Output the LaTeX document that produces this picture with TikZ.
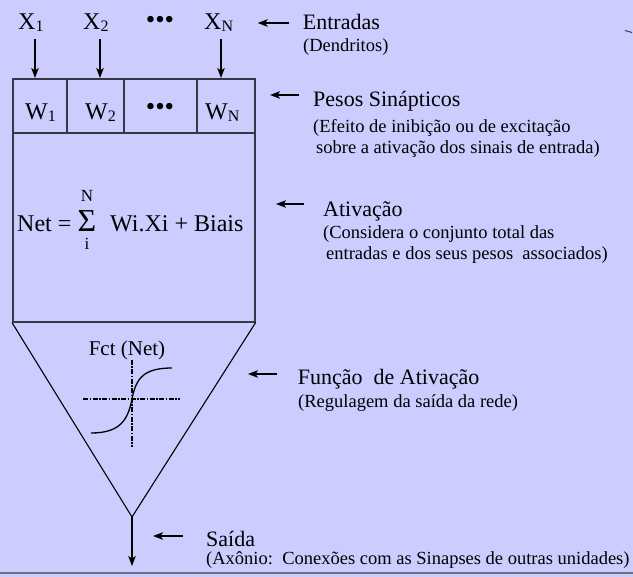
\documentclass[tikz,border=0pt]{standalone}
\usepackage{fontspec}
\setmainfont{Liberation Serif}
\usetikzlibrary{arrows.meta,positioning}
\definecolor{lavender}{RGB}{204,204,255}
\definecolor{boxgray}{RGB}{55,55,70}
\definecolor{rulegray}{RGB}{110,110,125}
\newcommand\sbs[1]{\raisebox{-2pt}{\fontsize{16}{16}\selectfont #1}}

\begin{document}
\begin{tikzpicture}[x=1pt, y=-1pt, >={Stealth[length=10pt,width=7.5pt,inset=2.5pt]},
	big/.style={font=\fontsize{22}{24}\selectfont, inner sep=0pt, anchor=base west},
	sub/.style={font=\fontsize{18.5}{21.5}\selectfont, inner sep=0pt, anchor=base west, align=left},
	sym/.style={font=\fontsize{24}{26}\selectfont, inner sep=0pt, anchor=base west},
	dots/.style={font=\fontsize{27}{28}\selectfont, inner sep=0pt},
	arr/.style={->, line width=1.3pt},
	boxline/.style={draw=boxgray, line width=1.6pt},
	dotline/.style={line width=1.7pt, dash pattern=on 5pt off 1.5pt on 1.5pt off 1.5pt}]
		\useasboundingbox (0,0) rectangle (633,577);
		\fill[lavender] (0,0) rectangle (633,577);
		\node[sym] (x1) at (18,29.3) {X\sbs{1}};
		\node[sym] (x2) at (83,29.3) {X\sbs{2}};
		\node[dots] (xdots) at (160,22) {•••};
		\node[sym] (xn) at (204,29.3) {X\sbs{N}};
		\node[boxline, minimum width=242pt, minimum height=243pt, inner sep=0pt, anchor=north west] (neuron) at (12,78) {};
		\draw[boxline] (12,133) -- (254,133);
		\foreach \c in {67,124,197} \draw[boxline] (\c,78) -- (\c,133);
		\foreach \n in {x1,x2,xn} {
			\coordinate (\n t) at ([xshift=17pt]\n.base west);
			\draw[arr] ([yshift=-10pt]\n t) -- (\n t |- neuron.north);
		}
		\node[sym] (w1) at (25,120) {W\sbs{1}};
		\node[sym] (w2) at (85,120) {W\sbs{2}};
		\node[dots] (wdots) at (160,109) {•••};
		\node[sym] (wn) at (205,120) {W\sbs{N}};
		\node[sym] (net) at (17,231.7) {Net =};
		\node[font=\fontsize{32}{33}\selectfont, inner sep=0pt, anchor=base] (sig) at (87,231.7) {Σ};
		\node[font=\fontsize{17}{18}\selectfont, inner sep=0pt, anchor=base] (supn) at (87,201.7) {N};
		\node[font=\fontsize{17}{18}\selectfont, inner sep=0pt, anchor=base] (subi) at (87,250) {i};
		\node[sym] (wx) at (110,231.7) {Wi.Xi + Biais};
		\coordinate (apex) at (132,517);
		\coordinate (out) at (132,566);
		\draw[line width=1.1pt] (neuron.south west) -- (apex) -- (neuron.south east);
		\draw[arr] (apex) -- (out);
		\node[font=\fontsize{21}{22}\selectfont, inner sep=0pt, anchor=base] (fct) at (127,356) {Fct (Net)};
		\draw[dotline] (132,360) -- (132,447);
		\draw[dotline] (83,399) -- (180,399);
		\draw[line width=1.3pt] (91,433) .. controls (120,433) and (128,420) .. (132,399) .. controls (136,378) and (144,368) .. (172,368);
		\node[big] (ent) at (302.7,30) {Entradas};
		\node[sub] (entd) at (303,52) {(Dendritos)};
		\node[big] (pes) at (313,107) {Pesos Sinápticos};
		\node[sub] (pesd) at (313,154) {(Efeito de inibição ou de excitação\\\hspace*{3pt}sobre a ativação dos sinais de entrada)};
		\node[big] (ati) at (323,216.7) {Ativação};
		\node[sub] (atid) at (323,260) {(Considera o conjunto total das\\\hspace*{3pt}entradas e dos seus pesos\ \ associados)};
		\node[big] (fun) at (297.7,385) {Função\ \ de Ativação};
		\node[sub] (fund) at (298,408) {(Regulagem da saída da rede)};
		\node[big] (sai) at (206,547) {Saída};
		\node[sub] (said) at (206,565) {(Axônio:\ \ Conexões com as Sinapses de outras unidades)};
		\draw[arr] ([shift={(-14pt,7pt)}]ent.base west) -- +(-31pt,0pt);
		\draw[arr] ([shift={(-14pt,12pt)}]pes.base west) -- +(-29pt,0pt);
		\draw[arr] ([shift={(-19pt,12.7pt)}]ati.base west) -- +(-28pt,0pt);
		\draw[arr] ([shift={(-20.7pt,11pt)}]fun.base west) -- +(-29pt,0pt);
		\draw[arr] ([shift={(-23pt,11pt)}]sai.base west) -- +(-30pt,0pt);
		\draw[rulegray, line width=2pt] (0,573) -- (633,573);
		\draw[boxgray, line width=1pt] (625,30.5) -- (632,32.5);
	\end{tikzpicture}
\end{document}
